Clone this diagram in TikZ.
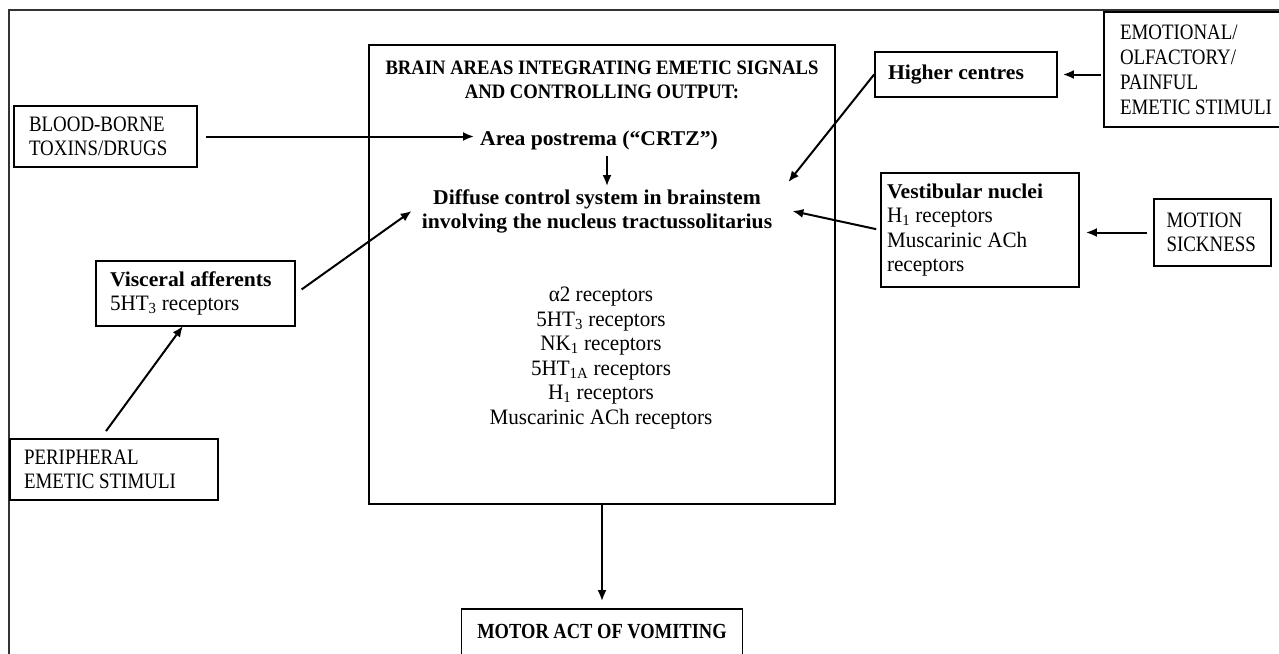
\documentclass[tikz,border=0pt]{standalone}
\usepackage{fontspec}
\setmainfont[FakeStretch=0.96]{Liberation Serif}
\newfontfamily\bmix[FakeStretch=1.03]{Liberation Serif}
\newfontfamily\rcaps[FakeStretch=0.86]{Liberation Serif}
\newfontfamily\tcaps[FakeStretch=0.91]{Liberation Serif}
\usetikzlibrary{arrows.meta}
\newcommand{\bmx}[1]{{\bmix\bfseries\fontsize{21}{24.5}\selectfont #1}}
\tikzset{
  every node/.style={font=\fontsize{22}{24.5}\selectfont},
  capsfont/.style={font=\fontsize{22}{24.5}\selectfont\rcaps},
  bx/.style={draw, line width=1.8pt, align=flush left, inner ysep=0pt},
  txt/.style={inner sep=0pt, align=flush center},
  arr/.style={line width=2pt, -{Latex[length=11pt,width=9pt]}},
  frame/.style={line width=1.2pt, draw=black!80}
}
\begin{document}
\begin{tikzpicture}[x=1pt,y=-1pt]
\useasboundingbox (0,0) rectangle (1279,653);
% outer frame (runs off the page right and bottom)
\draw[frame] (1300,10) -- (9,10) -- (9,680);

% main box
\node[draw, line width=1.8pt, minimum width=466pt, minimum height=459pt, inner sep=0pt] (main) at (602,274.5) {};
\node[txt, font=\fontsize{20.5}{24}\selectfont\tcaps\bfseries] (title) at (602,80) {BRAIN AREAS INTEGRATING EMETIC SIGNALS\\AND CONTROLLING OUTPUT:};
\node[txt, font=\fontsize{21}{24.5}\selectfont\bmix\bfseries] (ap) at (599,140) {Area postrema (“CRTZ”)};
\node[txt, font=\fontsize{21}{24}\selectfont\bmix\bfseries] (diff) at (597,211) {Diffuse control system in brainstem\\involving the nucleus tractussolitarius};
\node[txt] (recs) at (601,358) {α2 receptors\\5HT\textsubscript{3} receptors\\NK\textsubscript{1} receptors\\5HT\textsubscript{1A} receptors\\H\textsubscript{1} receptors\\Muscarinic ACh receptors};

% side boxes
\node[bx, capsfont, text width=153pt, inner xsep=15pt, minimum height=61pt] (blood) at (105.5,136.5) {BLOOD-BORNE\\TOXINS/DRUGS};
\node[bx, capsfont, text width=180pt, inner xsep=14pt, minimum height=61pt] (periph) at (114,469.5) {PERIPHERAL\\EMETIC STIMULI};
\node[bx, text width=171pt, inner xsep=14pt, minimum height=65pt] (visc) at (195.5,293.5) {\bmx{Visceral afferents}\\5HT\textsubscript{3} receptors};
\node[bx, text width=156pt, inner xsep=13pt, minimum height=45pt] (higher) at (966,74.5) {\bmx{Higher centres}};
\node[bx, font=\fontsize{22}{25}\selectfont\rcaps, text width=175pt, inner xsep=16pt, minimum height=115pt] (emot) at (1207.5,69.5) {EMOTIONAL/\\OLFACTORY/\\PAINFUL\\EMETIC STIMULI};
\node[bx, text width=186pt, inner xsep=6pt, minimum height=114pt] (vest) at (980,230) {\bmx{Vestibular nuclei}\\H\textsubscript{1} receptors\\Muscarinic ACh\\receptors};
\node[bx, capsfont, text width=92pt, inner xsep=12.5pt, minimum height=67pt] (motion) at (1212.5,232.5) {MOTION\\SICKNESS};
\node[bx, font=\fontsize{21.5}{24.5}\selectfont\rcaps\bfseries, align=flush center, text width=265pt, inner xsep=8pt, minimum height=46pt] (motor) at (602,632) {MOTOR ACT OF VOMITING};

% connectors
\draw[arr, shorten <=8pt, shorten >=6pt] (blood.east) -- (blood.east -| ap.west);
\draw[arr, shorten <=6pt, shorten >=3pt] ([xshift=8pt]ap.south) -- ([xshift=8pt]ap.south |- diff.north);
\draw[arr] (higher.west) -- ([xshift=16pt,yshift=7pt]diff.north east);
\draw[arr, shorten <=4pt] (vest.west) -- ([xshift=20pt]diff.east);
\draw[arr, shorten <=6pt, shorten >=6pt] (motion.west) -- (motion.west -| vest.east);
\draw[arr, shorten <=7pt] (visc.east) -- ([xshift=-10pt]diff.west);
\draw[arr] ([shift={(-8pt,7pt)}]periph.north) -- ([xshift=-12.5pt,yshift=1pt]visc.south);
\draw[arr, shorten <=2pt, shorten >=5pt] (emot.west |- higher.east) -- (higher.east);
\draw[arr, shorten >=7pt] (main.south) -- (motor.north);
\end{tikzpicture}
\end{document}
